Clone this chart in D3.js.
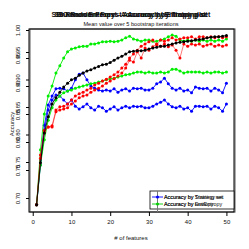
<!DOCTYPE html>
<html>
<head>
<meta charset="utf-8">
<script src="https://cdn.jsdelivr.net/npm/d3@7"></script>
<style>
  html, body { margin: 0; padding: 0; background: #fff; }
  svg { display: block; font-family: "Liberation Sans", Arial, sans-serif; }
</style>
</head>
<body>
<div id="chart"></div>
<script>
const features = d3.range(1, 51);

const blackSeries = [0.688, 0.763, 0.816, 0.845, 0.868, 0.879, 0.889, 0.898, 0.905, 0.911,
  0.914, 0.919, 0.923, 0.927, 0.929, 0.932, 0.935, 0.938, 0.939, 0.942,
  0.946, 0.950, 0.953, 0.957, 0.961, 0.962, 0.963, 0.963, 0.964, 0.966,
  0.968, 0.969, 0.971, 0.971, 0.973, 0.975, 0.977, 0.978, 0.979, 0.980,
  0.981, 0.982, 0.983, 0.984, 0.986, 0.987, 0.988, 0.988, 0.989, 0.990];

const redA = [0.688, 0.771, 0.818, 0.827, 0.829, 0.857, 0.863, 0.864, 0.868, 0.875,
  0.882, 0.886, 0.889, 0.893, 0.896, 0.902, 0.905, 0.909, 0.912, 0.916,
  0.920, 0.925, 0.932, 0.939, 0.950, 0.957, 0.964, 0.971, 0.975, 0.979,
  0.982, 0.973, 0.982, 0.980, 0.982, 0.986, 0.982, 0.984, 0.986, 0.986,
  0.988, 0.984, 0.988, 0.988, 0.986, 0.988, 0.986, 0.988, 0.986, 0.988];

const redB = [0.688, 0.777, 0.821, 0.827, 0.827, 0.854, 0.857, 0.859, 0.861, 0.868,
  0.873, 0.879, 0.882, 0.884, 0.889, 0.893, 0.896, 0.900, 0.905, 0.909,
  0.913, 0.918, 0.923, 0.932, 0.946, 0.943, 0.961, 0.950, 0.968, 0.964,
  0.970, 0.975, 0.971, 0.975, 0.970, 0.973, 0.964, 0.950, 0.975, 0.971,
  0.975, 0.973, 0.975, 0.971, 0.973, 0.975, 0.971, 0.973, 0.971, 0.973];

const greenTop = [0.688, 0.786, 0.850, 0.882, 0.900, 0.923, 0.936, 0.950, 0.961, 0.966,
  0.968, 0.970, 0.971, 0.971, 0.975, 0.975, 0.977, 0.979, 0.979, 0.980,
  0.979, 0.980, 0.982, 0.986, 0.989, 0.984, 0.982, 0.980, 0.982, 0.982,
  0.980, 0.980, 0.982, 0.984, 0.988, 0.991, 0.989, 0.982, 0.980, 0.982,
  0.980, 0.982, 0.980, 0.982, 0.980, 0.982, 0.980, 0.982, 0.980, 0.984];

const greenMid = [0.688, 0.759, 0.804, 0.839, 0.861, 0.875, 0.882, 0.888, 0.891, 0.893,
  0.896, 0.898, 0.900, 0.902, 0.904, 0.905, 0.907, 0.909, 0.911, 0.913,
  0.914, 0.916, 0.918, 0.920, 0.921, 0.923, 0.925, 0.925, 0.923, 0.925,
  0.923, 0.923, 0.925, 0.923, 0.925, 0.930, 0.930, 0.927, 0.923, 0.925,
  0.925, 0.925, 0.925, 0.923, 0.925, 0.923, 0.925, 0.925, 0.923, 0.925];

const blueTop = [0.688, 0.768, 0.830, 0.866, 0.882, 0.895, 0.896, 0.895, 0.891, 0.896,
  0.911, 0.921, 0.923, 0.911, 0.900, 0.896, 0.893, 0.891, 0.893, 0.891,
  0.895, 0.889, 0.893, 0.895, 0.891, 0.896, 0.895, 0.896, 0.893, 0.893,
  0.896, 0.904, 0.907, 0.914, 0.904, 0.896, 0.893, 0.896, 0.891, 0.893,
  0.888, 0.898, 0.896, 0.895, 0.896, 0.891, 0.896, 0.893, 0.888, 0.905];

const blueLow = [0.688, 0.759, 0.821, 0.857, 0.875, 0.884, 0.882, 0.875, 0.868, 0.875,
  0.864, 0.859, 0.863, 0.868, 0.861, 0.857, 0.864, 0.861, 0.855, 0.859,
  0.863, 0.857, 0.861, 0.864, 0.861, 0.864, 0.863, 0.864, 0.861, 0.861,
  0.864, 0.868, 0.871, 0.875, 0.868, 0.863, 0.861, 0.864, 0.859, 0.861,
  0.855, 0.864, 0.864, 0.863, 0.864, 0.859, 0.864, 0.861, 0.855, 0.868];

const xTicks = [0, 10, 20, 30, 40, 50];
const yTicksA = [0.70, 0.75, 0.80, 0.85, 0.90, 0.95, 1.00];
const yTicksB = [0.75, 0.80, 0.85, 0.90, 0.95];

const titles = [
  "Shannon Entropy - Accuracy by Entropy plot",
  "SISO Random Forest - Accuracy by Training set",
  "Sh Random Forest - Accuracy by Entropy plot"
];
const subtitle = "Mean value over 5 bootstrap iterations";
const legendRows = [
  { color: "#0000ff", labels: ["Accuracy by Training set", "Accuracy by Strategy set"] },
  { color: "#00cc00", labels: ["Accuracy by Entropy", "Accuracy by rawEntropy"] }
];

const series = [
  { values: blueLow, color: "#0000ff" },
  { values: blueTop, color: "#0000ff" },
  { values: greenMid, color: "#00ee00" },
  { values: greenTop, color: "#00ee00" },
  { values: redB, color: "#ff0000" },
  { values: redA, color: "#ff0000" },
  { values: blackSeries, color: "#000000" }
];

const w = 249, h = 249;
const plot = { left: 29, right: 234, top: 29, bottom: 212 };

const svg = d3.select("#chart").append("svg")
  .attr("width", w)
  .attr("height", h);

const x = d3.scaleLinear().domain([-0.96, 51.96]).range([plot.left, plot.right]);
const y = d3.scaleLinear().domain([0.70, 1.00]).range([198, 30]);
const yB = d3.scaleLinear().domain([0.75, 0.95]).range([162, 52]);

// titles: several plots were drawn over each other
titles.forEach(t => {
  svg.append("text")
    .attr("x", 131)
    .attr("y", 17)
    .attr("text-anchor", "middle")
    .attr("font-size", 7)
    .attr("font-weight", "bold")
    .attr("fill", "#111")
    .text(t);
});

svg.append("text")
  .attr("x", 131)
  .attr("y", 26)
  .attr("text-anchor", "middle")
  .attr("font-size", 5.6)
  .attr("fill", "#111")
  .text(subtitle);

// series
const line = d3.line()
  .x((d, i) => x(features[i]))
  .y(d => y(d));

series.forEach(s => {
  svg.append("path")
    .datum(s.values)
    .attr("fill", "none")
    .attr("stroke", s.color)
    .attr("stroke-opacity", s.color === "#ff0000" ? 0.6 : 1)
    .attr("stroke-width", 0.9)
    .attr("d", line);

  svg.append("g")
    .selectAll("circle")
    .data(s.values)
    .join("circle")
    .attr("cx", (d, i) => x(features[i]))
    .attr("cy", d => y(d))
    .attr("r", 1.5)
    .attr("fill", s.color);
});

// box
svg.append("rect")
  .attr("x", plot.left + 1)
  .attr("y", plot.top)
  .attr("width", plot.right - plot.left)
  .attr("height", plot.bottom - plot.top)
  .attr("fill", "none")
  .attr("stroke", "#777")
  .attr("stroke-width", 1.2);

svg.append("rect")
  .attr("x", plot.left)
  .attr("y", plot.top)
  .attr("width", plot.right - plot.left)
  .attr("height", plot.bottom - plot.top)
  .attr("fill", "none")
  .attr("stroke", "#000")
  .attr("stroke-width", 1);

// x axis
const xAxis = svg.append("g")
  .attr("transform", `translate(0,${plot.bottom})`)
  .call(d3.axisBottom(x).tickValues(xTicks).tickSize(4).tickPadding(4));
xAxis.select(".domain").remove();
xAxis.selectAll("text").attr("font-size", 6).attr("font-family", null).attr("fill", "#111");

// y axes (two overlapped plots)
[[y, yTicksA], [yB, yTicksB]].forEach(([scale, ticks]) => {
  const g = svg.append("g")
    .attr("transform", `translate(${plot.left},0)`)
    .call(d3.axisLeft(scale).tickValues(ticks).tickSize(3).tickFormat(d3.format(".2f")));
  g.select(".domain").remove();
  g.selectAll("text")
    .attr("font-size", 6)
    .attr("font-family", null)
    .attr("fill", "#111")
    .attr("x", null)
    .attr("dy", null)
    .attr("text-anchor", "middle")
    .attr("transform", "translate(-9,0) rotate(-90)");
});

// axis labels
svg.append("text")
  .attr("x", 131)
  .attr("y", 240)
  .attr("text-anchor", "middle")
  .attr("font-size", 6)
  .attr("fill", "#111")
  .text("# of features");

svg.append("text")
  .attr("transform", "translate(14,124) rotate(-90)")
  .attr("text-anchor", "middle")
  .attr("font-size", 6)
  .attr("fill", "#111")
  .text("Accuracy");

// legend
const lg = svg.append("g");
lg.append("rect")
  .attr("x", 150)
  .attr("y", 191)
  .attr("width", 84)
  .attr("height", 18)
  .attr("fill", "#fff")
  .attr("stroke", "#000")
  .attr("stroke-width", 0.8);
lg.append("line")
  .attr("x1", 157.5).attr("x2", 157.5)
  .attr("y1", 191).attr("y2", 212)
  .attr("stroke", "#777")
  .attr("stroke-width", 1);

legendRows.forEach((row, i) => {
  const ly = 197 + i * 7;
  lg.append("line")
    .attr("x1", 152).attr("x2", 163)
    .attr("y1", ly).attr("y2", ly)
    .attr("stroke", row.color)
    .attr("stroke-width", 0.9);
  lg.append("circle")
    .attr("cx", 157.5).attr("cy", ly)
    .attr("r", 1.5)
    .attr("fill", row.color);
  row.labels.forEach(t => {
    lg.append("text")
      .attr("x", 164)
      .attr("y", ly + 2)
      .attr("font-size", 5.4)
      .attr("fill", "#111")
      .text(t);
  });
});
</script>
</body>
</html>
